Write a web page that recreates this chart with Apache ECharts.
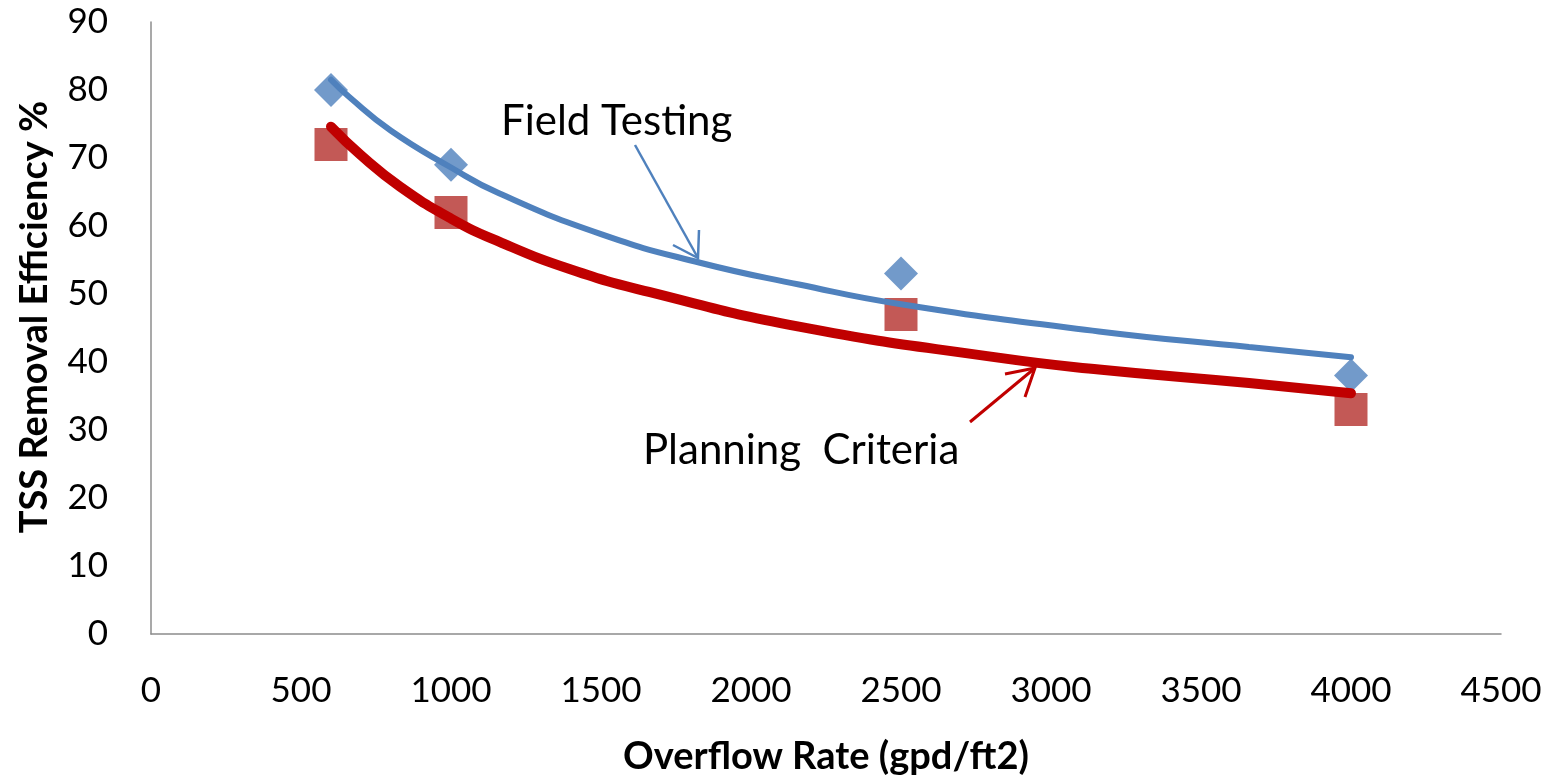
<!DOCTYPE html>
<html>
<head>
<meta charset="utf-8">
<title>TSS Removal Efficiency vs Overflow Rate</title>
<script src="https://cdn.jsdelivr.net/npm/echarts@6/dist/echarts.min.js"></script>
<style>
  html, body { margin: 0; padding: 0; background: #ffffff; }
  #chart { width: 1558px; height: 777px; }
</style>
</head>
<body>
<div id="chart"></div>
<script>
// Measured points (overflow rate in gpd/ft2, removal efficiency in %)
const overflowRates = [600, 1000, 2500, 4000];
const fieldTesting = [80, 69, 53, 38];
const planningCriteria = [72, 62, 47, 33];

// Fitted trend curves, sampled along each line
const fieldTrendX = [600, 660, 800, 1000, 1160, 1500, 1830, 2160, 2500, 3160, 3660, 4000];
const fieldTrendY = [81.5, 79.0, 74.0, 68.6, 64.8, 58.8, 54.6, 51.4, 48.5, 44.5, 42.2, 40.7];
const planTrendX = [600, 700, 830, 1000, 1160, 1400, 1660, 2160, 2830, 3160, 3660, 4000];
const planTrendY = [74.6, 70.4, 65.8, 61.1, 57.7, 53.6, 50.3, 45.2, 40.6, 38.9, 36.9, 35.4];

// Axis ticks
const xTicks = [0, 500, 1000, 1500, 2000, 2500, 3000, 3500, 4000, 4500];
const yTicks = [0, 10, 20, 30, 40, 50, 60, 70, 80, 90];

const FONT = 'Lato, "Open Sans", sans-serif';
const BLUE = '#4F81BD';
const RED_MARK = '#C0504D';
const RED_LINE = '#C00000';

const zip = (xs, ys) => xs.map((x, i) => [x, ys[i]]);

const chart = echarts.init(document.getElementById('chart'), null, { renderer: 'canvas' });

const axisLineStyle = { lineStyle: { color: '#8C8C8C', width: 1.5 } };

chart.setOption({
  animation: false,
  backgroundColor: '#ffffff',
  grid: { left: 151, right: 57, top: 22, bottom: 143, containLabel: false, outerBoundsMode: 'none' },
  xAxis: {
    type: 'value',
    min: xTicks[0],
    max: xTicks[xTicks.length - 1],
    interval: xTicks[1] - xTicks[0],
    name: 'Overflow Rate (gpd/ft2)',
    nameLocation: 'middle',
    nameGap: 104,
    nameTextStyle: { fontFamily: FONT, fontWeight: 'bold', fontSize: 38, color: '#000' },
    axisLine: axisLineStyle,
    axisTick: { show: false },
    splitLine: { show: false },
    axisLabel: { fontFamily: FONT, fontSize: 35, color: '#000', margin: 39, formatter: v => String(v) }
  },
  yAxis: {
    type: 'value',
    min: yTicks[0],
    max: yTicks[yTicks.length - 1],
    interval: yTicks[1] - yTicks[0],
    name: 'TSS Removal Efficiency %',
    nameLocation: 'middle',
    nameGap: 97,
    nameTextStyle: { fontFamily: FONT, fontWeight: 'bold', fontSize: 38, color: '#000', padding: [0, 0, 0, 22] },
    axisLine: { show: true, ...axisLineStyle },
    axisTick: { show: false },
    splitLine: { show: false },
    axisLabel: { fontFamily: FONT, fontSize: 35, color: '#000', margin: 43, formatter: v => String(v) }
  },
  series: [
    {
      name: 'Field Testing',
      type: 'scatter',
      symbol: 'diamond',
      symbolSize: 34,
      itemStyle: { color: BLUE },
      data: zip(overflowRates, fieldTesting),
      z: 2
    },
    {
      name: 'Planning Criteria',
      type: 'scatter',
      symbol: 'rect',
      symbolSize: 33,
      itemStyle: { color: RED_MARK, opacity: 0.95 },
      data: zip(overflowRates, planningCriteria),
      z: 2
    },
    {
      name: 'Field Testing trend',
      type: 'line',
      smooth: 0.5,
      showSymbol: false,
      lineStyle: { color: BLUE, width: 6, cap: 'round' },
      data: zip(fieldTrendX, fieldTrendY),
      z: 3
    },
    {
      name: 'Planning Criteria trend',
      type: 'line',
      smooth: 0.5,
      showSymbol: false,
      lineStyle: { color: RED_LINE, width: 10, cap: 'round' },
      data: zip(planTrendX, planTrendY),
      z: 3
    }
  ],
  graphic: [
    {
      type: 'text',
      left: 501, top: 100,
      style: { text: 'Field Testing', font: '42px ' + FONT, fill: '#000' }
    },
    {
      type: 'polyline',
      shape: { points: [[635, 145], [698, 258]] },
      style: { stroke: BLUE, lineWidth: 2.5, fill: null }
    },
    {
      type: 'polyline',
      shape: { points: [[673, 245], [698, 258], [699, 230]] },
      style: { stroke: BLUE, lineWidth: 2.5, fill: null }
    },
    {
      type: 'text',
      left: 643, top: 429,
      style: { text: 'Planning  Criteria', font: '42px ' + FONT, fill: '#000' }
    },
    {
      type: 'polyline',
      shape: { points: [[970, 422], [1035, 368]] },
      style: { stroke: RED_LINE, lineWidth: 3, fill: null }
    },
    {
      type: 'polyline',
      shape: { points: [[1005, 374], [1035, 368], [1025, 397]] },
      style: { stroke: RED_LINE, lineWidth: 3, fill: null }
    }
  ]
});
</script>
</body>
</html>
